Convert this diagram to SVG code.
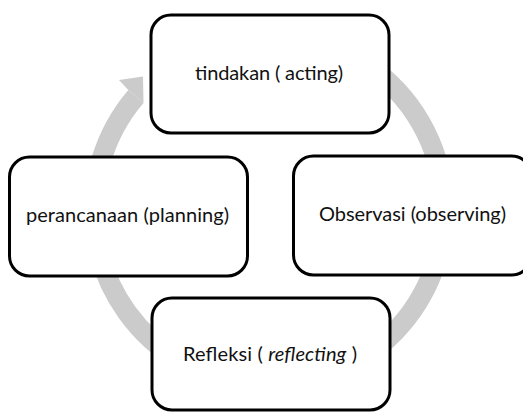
<svg xmlns="http://www.w3.org/2000/svg" width="523" height="412" viewBox="0 0 523 412">
<style>
.node rect{fill:#ffffff;stroke:#000000;stroke-width:3}
.lbl{font-family:Lato,"Open Sans","Liberation Sans",sans-serif;font-size:20px;fill:#111111;text-anchor:middle}
.ring{fill:none;stroke:#cbcbcb;stroke-width:20}
</style>
<rect width="523" height="412" fill="#ffffff"/>
<g id="connectors">
<path class="ring" d="M 299.4 37.7 A 175 175 0 1 1 135.9 96.4"/>
<polygon fill="#cbcbcb" points="128.3,89.9 119,80 143,76.5 143.5,103.5 143.5,102.9"/>
</g>
<g id="node-acting" class="node">
<rect x="151" y="15" width="238" height="118" rx="20"/>
<text class="lbl" x="269" y="80" textLength="148">tindakan ( acting)</text>
</g>
<g id="node-planning" class="node">
<rect x="9.5" y="157" width="238" height="119" rx="20"/>
<text class="lbl" x="127.5" y="222" textLength="203">perancanaan (planning)</text>
</g>
<g id="node-observing" class="node">
<rect x="293.5" y="156" width="238" height="119" rx="20"/>
<text class="lbl" x="412.5" y="221" textLength="187">Observasi (observing)</text>
</g>
<g id="node-reflecting" class="node">
<rect x="152" y="298" width="238" height="112" rx="20"/>
<text class="lbl" x="270" y="361" textLength="174">Refleksi ( <tspan font-style="italic">reflecting</tspan> )</text>
</g>
</svg>
